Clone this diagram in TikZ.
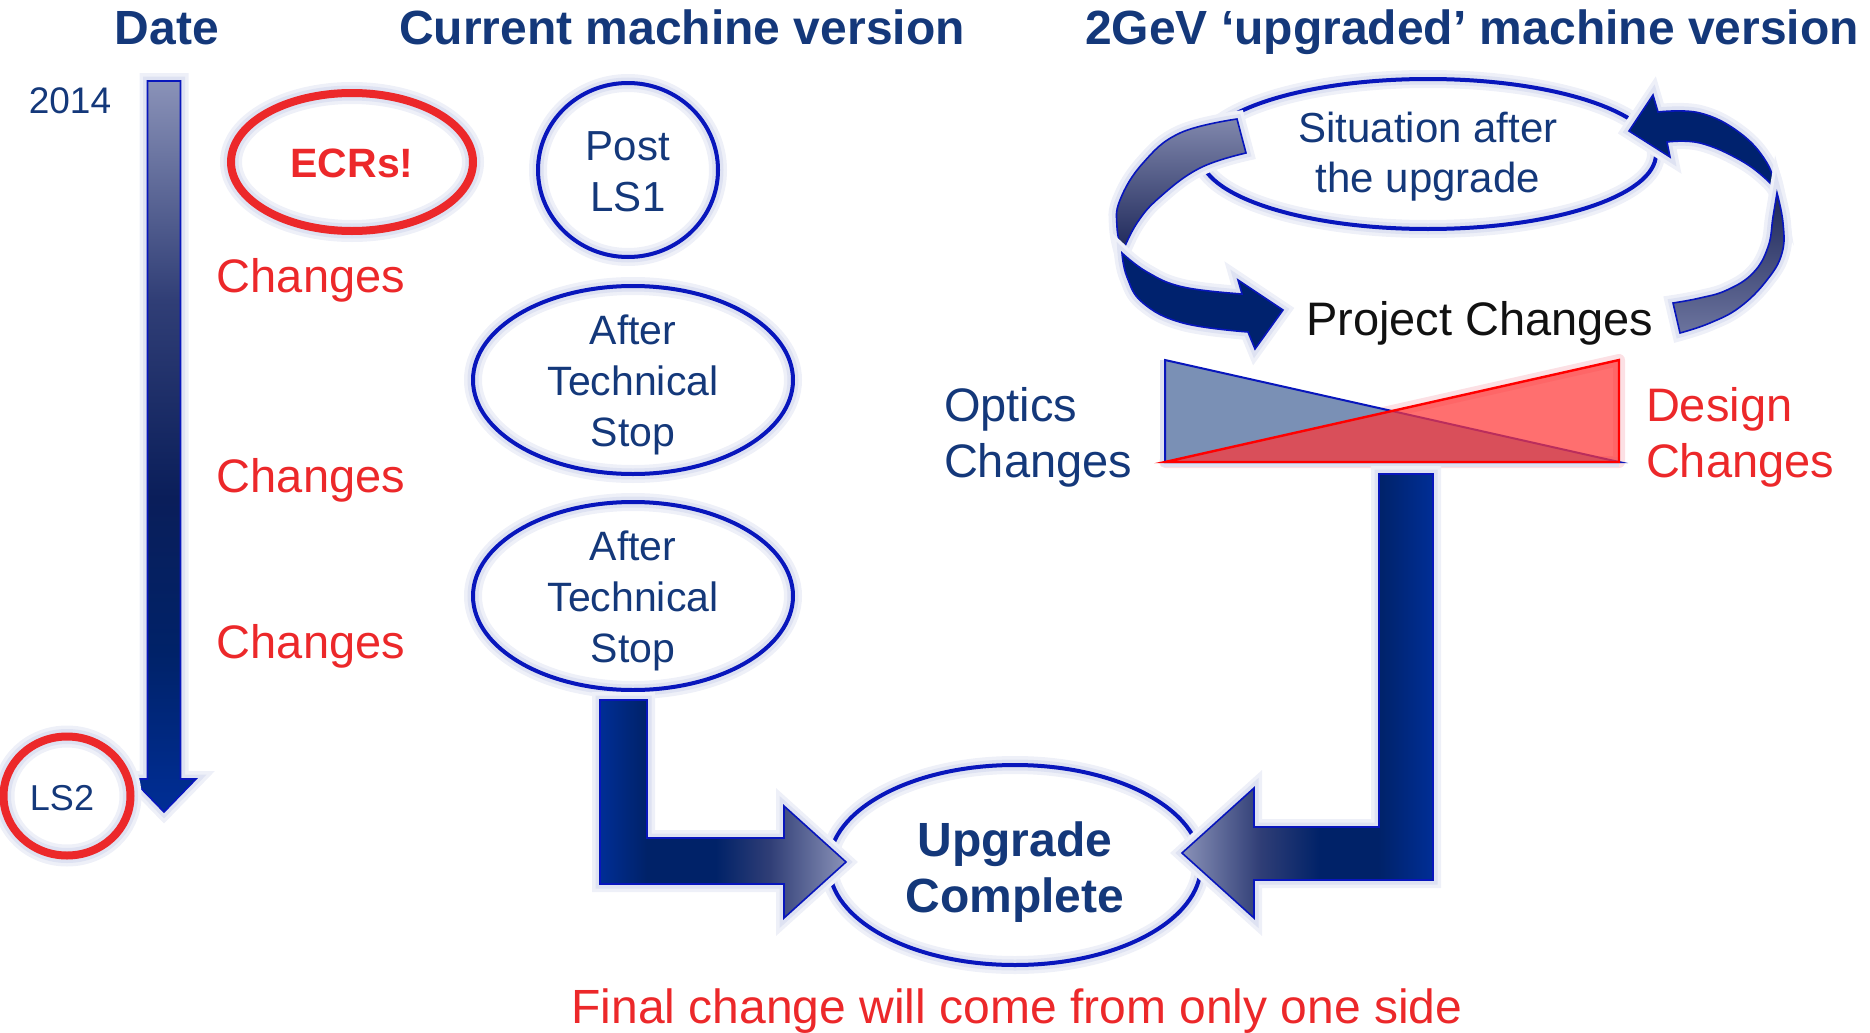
\documentclass[tikz,border=0pt]{standalone}
\usepackage{fontspec}
\setmainfont{Liberation Sans}
\usetikzlibrary{shapes.geometric}

% palette
\definecolor{navytext}{RGB}{20,56,122}
\definecolor{ringblue}{RGB}{8,22,188}
\definecolor{alertred}{RGB}{236,40,42}
\definecolor{haloA}{RGB}{238,240,248}
\definecolor{haloB}{RGB}{222,226,242}
\definecolor{haloR}{RGB}{252,224,228}
\definecolor{triblue}{RGB}{122,144,181}
\definecolor{trired}{RGB}{255,55,55}
\definecolor{deepnavy}{RGB}{0,34,110}
\definecolor{inkblack}{RGB}{17,17,17}
% shading stops
\definecolor{sBlue}{RGB}{0,46,150}
\definecolor{sNavy}{RGB}{0,34,104}
\definecolor{sDark}{RGB}{10,30,90}
\definecolor{sSlate}{RGB}{48,62,118}
\definecolor{sMist}{RGB}{138,146,184}
\definecolor{sTwist}{RGB}{28,38,88}
\definecolor{sPale}{RGB}{128,135,172}
\definecolor{sPale2}{RGB}{108,116,158}

\pgfdeclareverticalshading{timeline}{100bp}{color(0bp)=(sBlue); color(25bp)=(sBlue); color(36bp)=(sNavy); color(46.5bp)=(sDark); color(60bp)=(sSlate); color(75bp)=(sMist); color(100bp)=(sMist)}
\pgfdeclarehorizontalshading{leftL}{100bp}{color(0bp)=(sBlue); color(25bp)=(sBlue); color(34.5bp)=(sNavy); color(48.5bp)=(sNavy); color(59.5bp)=(sSlate); color(75bp)=(sMist); color(100bp)=(sMist)}
\pgfdeclarehorizontalshading{rightL}{100bp}{color(0bp)=(sMist); color(25bp)=(sMist); color(40.5bp)=(sSlate); color(52.5bp)=(sNavy); color(64bp)=(sNavy); color(75bp)=(sBlue); color(100bp)=(sBlue)}
% ribbon pieces of the circular arrows
\pgfdeclareverticalshading{ribbonDown}{100bp}{color(0bp)=(sTwist); color(25bp)=(sTwist); color(75bp)=(sPale); color(100bp)=(sPale)}
\pgfdeclareverticalshading{ribbonUp}{100bp}{color(0bp)=(sPale2); color(25bp)=(sPale2); color(75bp)=(sTwist); color(100bp)=(sTwist)}

\begin{document}
\begin{tikzpicture}[x=0.5pt, y=-0.5pt,
  every node/.style={inner sep=0pt, outer sep=0pt},
  title/.style={font=\bfseries\fontsize{24}{28}\selectfont, text=navytext, anchor=base},
  ring/.style={ellipse, draw=ringblue, line width=2pt,
    preaction={draw=haloA, line width=9pt}, preaction={draw=haloB, line width=5.5pt}},
  redring/.style={ellipse, draw=alertred, line width=4pt,
    preaction={draw=haloA, line width=11pt}, preaction={draw=haloB, line width=7.5pt}},
  note/.style={text=alertred, font=\fontsize{23.5}{28}\selectfont, anchor=base},
  inring/.style={text=navytext, align=center},
  block/.style={draw=ringblue, line width=0.8pt,
    preaction={draw=haloA, line width=8pt}, preaction={draw=haloB, line width=4.5pt}},
]
\useasboundingbox (0,0) rectangle (1870,1033);

% ---------- column headings ----------
\node[title] (hdate) at (167,45) {Date};
\node[title] (hcur) at (682,45) {Current machine version};
\node[title] (hup) at (1472,45) {2GeV ‘upgraded’ machine version};

% ---------- time line ----------
\node[anchor=base, text=navytext, font=\fontsize{18.5}{21}\selectfont] (y2014) at (70,113) {2014};
\shadedraw[shading=timeline, block]
  (147.5,81) -- (180.5,81) -- (180.5,779) -- (196,779) -- (164,812) -- (132,779) -- (147.5,779) -- cycle;

\node[redring, minimum width=63.5pt, minimum height=59.5pt] (ls2) at (67,796) {};
\node[anchor=base, text=navytext, font=\fontsize{18}{20}\selectfont] (ls2txt) at (62,810) {LS2};

\node[redring, minimum width=121pt, minimum height=69pt] (ecr) at (352,162) {};
\node[anchor=base, text=alertred, font=\bfseries\fontsize{20.5}{24}\selectfont] (ecrtxt) at (352,177) {ECRs!};

\node[note] (chg1) at (311,292) {Changes};
\node[note] (chg2) at (311,492) {Changes};
\node[note] (chg3) at (311,658) {Changes};

% ---------- current machine ----------
\node[ring, minimum width=90pt, minimum height=87pt] (post) at (628,170) {};
\node[inring, font=\fontsize{21}{25.5}\selectfont] (posttxt) at (628,171.5) {Post\\LS1};

\node[ring, minimum width=160pt, minimum height=94pt] (ts1) at (633,380) {};
\node[inring, font=\fontsize{20.5}{25.5}\selectfont] (ts1txt) at (633,385) {After\\Technical\\Stop};

\node[ring, minimum width=160pt, minimum height=94pt] (ts2) at (633,596) {};
\node[inring, font=\fontsize{20.5}{25.5}\selectfont] (ts2txt) at (633,601) {After\\Technical\\Stop};

% ---------- upgraded machine ----------
\node[ring, minimum width=228pt, minimum height=75pt] (sit) at (1428,154) {};
\node[inring, font=\fontsize{21}{25}\selectfont] (sittxt) at (1428,157) {Situation after\\the upgrade};

% left circular arrow: twisted ribbon, then head pointing right
\shadedraw[shading=ribbonDown, block]
  plot[smooth, tension=0.7] coordinates {(1237,119) (1180,133) (1143,163) (1120,200) (1117,227) (1122,253)}
  -- plot[smooth, tension=0.7] coordinates {(1122,253) (1137,223) (1160,197) (1200,168) (1246,153)} -- cycle;
\filldraw[fill=deepnavy, block]
  plot[smooth, tension=0.7] coordinates {(1122,253) (1127,277) (1143,303) (1183,323) (1248,332)}
  -- (1255,349) -- (1283,310) -- (1238,280) -- (1242,294)
  -- plot[smooth, tension=0.7] coordinates {(1242,294) (1183,287) (1147,272) (1122,253)} -- cycle;

% right circular arrow: head at the top, ribbon twisting down to the tail
\filldraw[fill=deepnavy, block]
  (1629,131) -- (1653,95) -- (1658,112)
  -- plot[smooth, tension=0.7] coordinates {(1658,112) (1700,113) (1740,133) (1767,163) (1777,193)}
  -- plot[smooth, tension=0.7] coordinates {(1777,193) (1767,180) (1740,160) (1700,143) (1667,142)}
  -- (1670,157) -- cycle;
\shadedraw[shading=ribbonUp, block]
  plot[smooth, tension=0.7] coordinates {(1777,193) (1783,223) (1782,253) (1767,280) (1740,307) (1710,323) (1680,333)}
  -- (1673,303)
  -- plot[smooth, tension=0.7] coordinates {(1673,303) (1700,298) (1727,290) (1753,273) (1768,247) (1773,217) (1777,193)} -- cycle;

\node[anchor=base west, text=inkblack, font=\fontsize{23.5}{28}\selectfont] (proj) at (1306,335) {Project Changes};

% balance of optics and design changes
\coordinate (tl) at (1165,360);
\coordinate (bl) at (1165,462);
\coordinate (br) at (1619,462);
\coordinate (tr) at (1619,360);
\draw[haloR, line width=6pt, line join=round] (bl) -- (tr) -- (br) -- cycle;
\draw[haloB, line width=5pt, line join=round] (tl) -- (bl) -- (br);
\filldraw[fill=triblue, draw=ringblue, line width=1pt] (tl) -- (bl) -- (br) -- cycle;
\filldraw[fill=trired, fill opacity=0.72, draw=red, line width=1.2pt] (bl) -- (tr) -- (br) -- cycle;

\node[anchor=west, align=left, text=navytext, font=\fontsize{23.5}{28}\selectfont] (optics) at (944,437) {Optics\\Changes};
\node[anchor=west, align=left, text=alertred, font=\fontsize{23.5}{28}\selectfont] (design) at (1646,437) {Design\\Changes};

% ---------- outcome ----------
\node[ring, minimum width=186pt, minimum height=100pt] (done) at (1015,865) {};
\node[inring, font=\bfseries\fontsize{24}{28}\selectfont] (donetxt) at (1015,872) {Upgrade\\Complete};

\shadedraw[shading=leftL, block]
  (600,700) -- (647,700) -- (647,838) -- (784,838) -- (784,806) -- (846,862)
  -- (784,918) -- (784,884) -- (600,884) -- cycle;
\shadedraw[shading=rightL, block]
  (1379,474) -- (1433,474) -- (1433,880) -- (1254,880) -- (1254,918) -- (1182,853)
  -- (1254,788) -- (1254,827) -- (1379,827) -- cycle;

\node[anchor=base, text=alertred, font=\fontsize{24}{28}\selectfont] (final) at (1017,1023) {Final change will come from only one side};
\end{tikzpicture}
\end{document}
